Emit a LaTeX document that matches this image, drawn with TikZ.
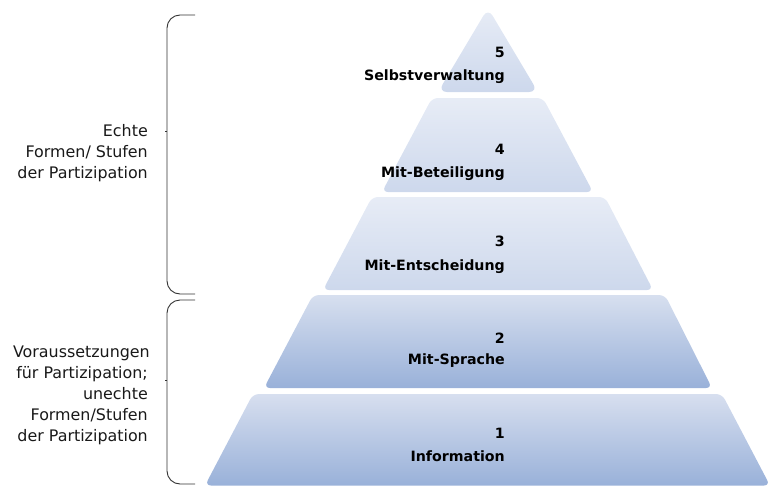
\documentclass[tikz,border=0pt]{standalone}
\usepackage{fontspec}
\setmainfont{DejaVu Sans}
\definecolor{darktop}{HTML}{D7DFEF}
\definecolor{darkbot}{HTML}{99B1D9}
\definecolor{lighttop}{HTML}{E7ECF6}
\definecolor{lightbot}{HTML}{CDD8EC}
\definecolor{bracecol}{HTML}{333333}
\tikzset{
  lvldark/.style={top color=darktop, bottom color=darkbot, rounded corners=6pt},
  lvllight/.style={top color=lighttop, bottom color=lightbot, rounded corners=6pt},
  numtxt/.style={anchor=base east, inner sep=0pt, font=\bfseries\fontsize{14.2}{17}\selectfont},
  sidetxt/.style={anchor=base east, inner sep=0pt, font=\fontsize{15.9}{21}\selectfont, text=black!90},
  bracelin/.style={draw=bracecol, line width=0.9pt, rounded corners=13pt},
}
\begin{document}
\begin{tikzpicture}[x=1pt,y=-1pt]
\useasboundingbox (0,0) rectangle (777,485);
% pyramid levels
\shade[lvldark] (253,394) -- (722,394) -- (770,485.5) -- (205,485.5) -- cycle;
\shade[lvldark] (313,295) -- (665,295) -- (712,388) -- (264,388) -- cycle;
\shade[lvllight] (372,197) -- (605,197) -- (653,290) -- (323,290) -- cycle;
\shade[lvllight] (432,98) -- (543,98) -- (593,192) -- (382,192) -- cycle;
\shade[lvllight, rounded corners=9pt] (488,8) -- (538,92) -- (438,92) -- cycle;
% texts
\node[numtxt] (n5) at (505,57) {5};
\node[numtxt] (t5) at (505,80) {Selbstverwaltung};
\node[numtxt] (n4) at (505,154) {4};
\node[numtxt] (t4) at (505,177) {Mit-Beteiligung};
\node[numtxt] (n3) at (505,246) {3};
\node[numtxt] (t3) at (505,270) {Mit-Entscheidung};
\node[numtxt] (n2) at (505,343) {2};
\node[numtxt] (t2) at (505,364) {Mit-Sprache};
\node[numtxt] (n1) at (505,438) {1};
\node[numtxt] (t1) at (505,461) {Information};
% braces
\draw[bracelin] (195,15) -- (167,15) -- (167,294) -- (195,294);
\draw[draw=bracecol, line width=0.9pt] (167,131) -- (165,131);
\draw[bracelin] (195,300) -- (167,300) -- (167,484) -- (195,484);
\draw[draw=bracecol, line width=0.9pt] (167,380) -- (165,380);
% side labels
\node[sidetxt] (a1) at (148,136) {Echte};
\node[sidetxt] (a2) at (148,157) {Formen/ Stufen};
\node[sidetxt] (a3) at (148,178) {der Partizipation};
\node[sidetxt] (b1) at (150,357) {Voraussetzungen};
\node[sidetxt] (b2) at (148,378) {für Partizipation;};
\node[sidetxt] (b3) at (148,399) {unechte};
\node[sidetxt] (b4) at (148,420) {Formen/Stufen};
\node[sidetxt] (b5) at (148,441) {der Partizipation};
\end{tikzpicture}
\end{document}
